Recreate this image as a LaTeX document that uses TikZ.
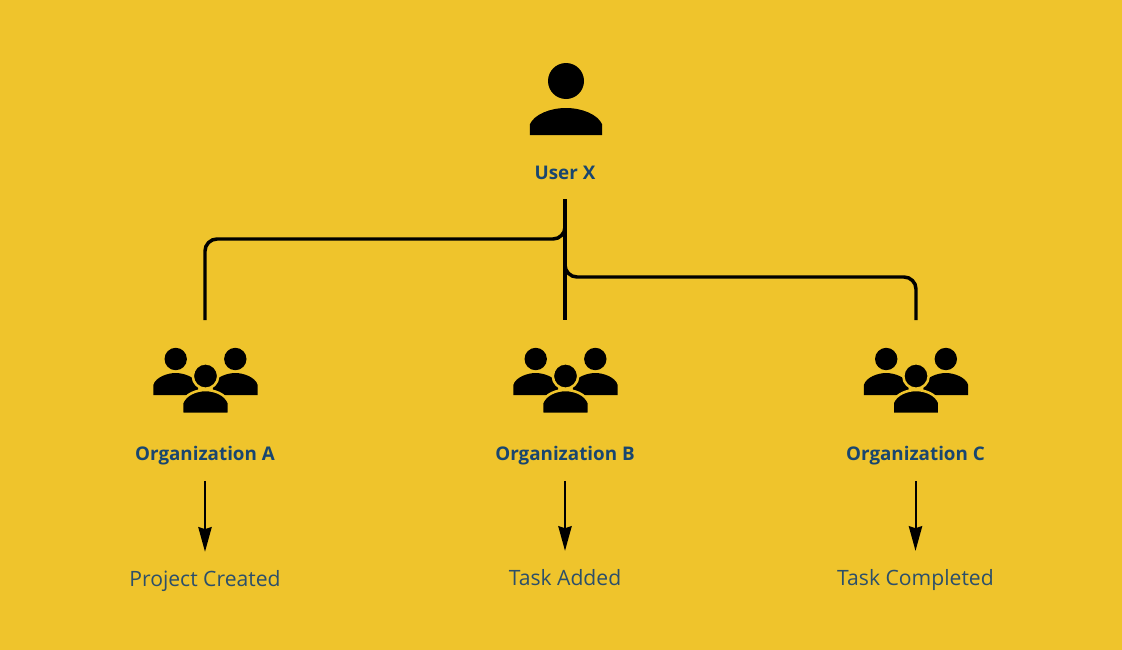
\documentclass[tikz,border=0pt]{standalone}
\usepackage{fontspec}
\setmainfont{Open Sans}
\usetikzlibrary{arrows.meta}
\usetikzlibrary{positioning}
\definecolor{bgyellow}{HTML}{EFC42C}
\definecolor{namecol}{HTML}{19466F}
\definecolor{resultcol}{HTML}{2C4F6A}
\tikzset{
  namelabel/.style={font=\bfseries\fontsize{14.1pt}{16pt}\selectfont, text=namecol, inner sep=0pt, text height=11pt, text depth=3pt},
  resultlabel/.style={font=\fontsize{15.85pt}{18pt}\selectfont, text=resultcol, inner sep=0pt, text height=12pt, text depth=4pt},
  branchline/.style={line width=2.6pt, rounded corners=9pt},
  resultarrow/.style={line width=1.5pt, -{Stealth[length=18.5pt, width=10pt, inset=1.5pt]}, shorten <=11.8pt, shorten >=13.5pt},
  % one person of a group, drawn around the centre of the body
  pics/member/.style={code={
    \fill (0,-25) circle[radius=11.2];
    \fill (-22.4,11) -- (-22.4,1) .. controls (-20,-7) and (-8,-11) .. (0,-11)
      .. controls (8,-11) and (20,-7) .. (22.4,1) -- (22.4,11) -- cycle;
  }},
  pics/usericon/.style={code={
    \fill (0,-40.5) circle[radius=18];
    \fill (-36.2,13.5) -- (-36.2,3) .. controls (-32,-7) and (-16,-13.5) .. (0,-13.5)
      .. controls (16,-13.5) and (32,-7) .. (36.2,3) -- (36.2,13.5) -- cycle;
  }},
  pics/groupicon/.style={code={
    \pic at (-29.8,-18) {member};
    \pic at (29.8,-18) {member};
    \fill[draw=bgyellow, line width=1.9pt] (0,-26) circle[radius=12.7];
    \fill[draw=bgyellow, line width=1.9pt] (-23.5,12) -- (-23.5,1) .. controls (-20,-8) and (-9,-12) .. (0,-12)
      .. controls (9,-12) and (20,-8) .. (23.5,1) -- (23.5,12) -- cycle;
  }},
}
\begin{document}
\begin{tikzpicture}[x=0.75pt, y=-0.75pt, node distance=78.5pt]
  \fill[bgyellow] (0,0) rectangle (1122,650);
  \useasboundingbox (0,0) rectangle (1122,650);
  % icons
  \pic at (566,121.5) {usericon};
  \pic at (205.5,402) {groupicon};
  \pic at (565.5,402) {groupicon};
  \pic at (916,402) {groupicon};
  % labels
  \node[namelabel] (userX) at (565,174) {User X};
  \node[namelabel] (orgA) at (205,455.5) {Organization A};
  \node[namelabel] (orgB) at (565,455.5) {Organization B};
  \node[namelabel] (orgC) at (915.5,455.5) {Organization C};
  \node[resultlabel, below=of orgA] (resA) {Project Created};
  \node[resultlabel, below=77.8pt of orgB] (resB) {Task Added};
  \node[resultlabel, below=77.8pt of orgC] (resC) {Task Completed};
  % branches
  \coordinate (trunk) at (565,199);
  \coordinate (topA) at (205,320);
  \coordinate (topB) at (565,320);
  \coordinate (topC) at (916,320);
  \coordinate (railA) at (400,239);
  \coordinate (railC) at (740,277);
  \draw[branchline] (trunk) -- (topB);
  \draw[branchline] (trunk) |- (railA) -| (topA);
  \draw[branchline] (trunk) |- (railC) -| (topC);
  % results
  \draw[resultarrow] (orgA) -- (resA);
  \draw[resultarrow] (orgB) -- (resB);
  \draw[resultarrow] (orgC) -- (resC);
\end{tikzpicture}
\end{document}
